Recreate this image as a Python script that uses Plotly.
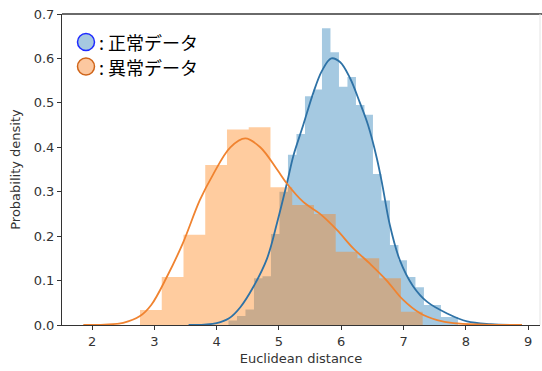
import numpy as np
import plotly.graph_objects as go

# Histogram of Euclidean distances for normal data (density per bin)
normal_bin_start = 4.19
normal_bin_width = 0.1364
normal_density = [0.010, 0.020, 0.035, 0.105, 0.110, 0.205, 0.300, 0.383, 0.430,
                  0.515, 0.530, 0.668, 0.614, 0.536, 0.558, 0.495, 0.473, 0.340,
                  0.280, 0.180, 0.146, 0.108, 0.085, 0.045, 0.045, 0.018, 0.018]

# Histogram of Euclidean distances for anomalous data (density per bin)
anomaly_bin_start = 2.77
anomaly_bin_width = 0.349
anomaly_density = [0.034, 0.108, 0.203, 0.360, 0.440, 0.445, 0.310, 0.270,
                   0.250, 0.165, 0.150, 0.105, 0.030]

# Kernel density estimates
normal_kde_x = [3.55, 3.80, 4.00, 4.20, 4.38, 4.59, 4.81, 4.97, 5.13, 5.23, 5.39,
                5.55, 5.69, 5.84, 5.98, 6.14, 6.30, 6.43, 6.57, 6.66, 6.78, 6.94,
                7.15, 7.38, 7.70, 8.02, 8.40, 8.90]
normal_kde_y = [0.000, 0.001, 0.004, 0.015, 0.040, 0.086, 0.150, 0.230, 0.320, 0.380,
                0.450, 0.522, 0.572, 0.600, 0.592, 0.556, 0.500, 0.450, 0.376, 0.315,
                0.225, 0.146, 0.088, 0.052, 0.026, 0.008, 0.002, 0.000]

anomaly_kde_x = [1.86, 2.20, 2.50, 2.77, 2.95, 3.20, 3.46, 3.73, 3.94, 4.22, 4.46,
                 4.70, 4.97, 5.13, 5.39, 5.66, 5.93, 6.19, 6.46, 6.73, 6.99, 7.26,
                 7.54, 7.80, 8.30, 8.90]
anomaly_kde_y = [0.000, 0.001, 0.005, 0.020, 0.045, 0.108, 0.185, 0.281, 0.338, 0.400,
                 0.420, 0.400, 0.350, 0.318, 0.277, 0.250, 0.214, 0.173, 0.138, 0.100,
                 0.057, 0.027, 0.011, 0.004, 0.001, 0.000]

x_ticks = [2, 3, 4, 5, 6, 7, 8, 9]
y_ticks = [0.0, 0.1, 0.2, 0.3, 0.4, 0.5, 0.6, 0.7]

BLUE_LINE = "#2e72a6"
ORANGE_LINE = "#f08330"


def step_outline(start, width, heights):
    """Return x/y points of a histogram outline for an 'hv' step line."""
    edges = start + width * np.arange(len(heights) + 1)
    xs = list(edges)
    ys = list(heights) + [heights[-1]]
    return xs, ys


fig = go.Figure()

# histogram fills first, density curves on top
nx, ny = step_outline(normal_bin_start, normal_bin_width, normal_density)
fig.add_trace(go.Scatter(x=nx, y=ny, mode="lines", line=dict(width=0, shape="hv"),
                         fill="tozeroy", fillcolor="rgba(31,119,180,0.4)",
                         hoverinfo="skip", showlegend=False))

ax, ay = step_outline(anomaly_bin_start, anomaly_bin_width, anomaly_density)
fig.add_trace(go.Scatter(x=ax, y=ay, mode="lines", line=dict(width=0, shape="hv"),
                         fill="tozeroy", fillcolor="rgba(255,127,14,0.4)",
                         hoverinfo="skip", showlegend=False))

fig.add_trace(go.Scatter(x=normal_kde_x, y=normal_kde_y, mode="lines",
                         line=dict(color=BLUE_LINE, width=1.8, shape="spline", smoothing=1.0),
                         showlegend=False))
fig.add_trace(go.Scatter(x=anomaly_kde_x, y=anomaly_kde_y, mode="lines",
                         line=dict(color=ORANGE_LINE, width=1.8, shape="spline", smoothing=1.0),
                         showlegend=False))

tick_font = dict(family="DejaVu Sans", size=13, color="#333333")

fig.update_layout(
    width=542, height=371,
    margin=dict(l=62, r=2, t=14, b=46),
    paper_bgcolor="white", plot_bgcolor="white",
    xaxis=dict(range=[1.518, 9.19], tickvals=x_ticks, ticks="outside", ticklen=4,
               tickcolor="#333333", showline=True, linecolor="#333333", linewidth=1,
               showgrid=False, zeroline=False, tickfont=tick_font,
               title=dict(text="Euclidean distance", font=tick_font, standoff=6)),
    yaxis=dict(range=[0, 0.7], tickvals=y_ticks, tickformat=".1f", ticks="outside",
               ticklen=4, tickcolor="#333333", showline=True, linecolor="#333333",
               linewidth=1, showgrid=False, zeroline=False, tickfont=tick_font,
               title=dict(text="Probability density", font=tick_font, standoff=10)),
    shapes=[
        dict(type="line", xref="paper", yref="paper", x0=0, x1=1.01, y0=1, y1=1,
             line=dict(color="#6a6a6a", width=2)),
        dict(type="line", xref="paper", yref="paper", x0=1, x1=1, y0=0, y1=1,
             line=dict(color="#e4e4e4", width=1)),
        dict(type="circle", xref="paper", yref="paper", xsizemode="pixel",
             ysizemode="pixel", xanchor=0.0502, yanchor=0.91,
             x0=-8.5, x1=8.5, y0=-8.5, y1=8.5,
             fillcolor="#a6c8e0", line=dict(color="#1f2bff", width=1.5)),
        dict(type="circle", xref="paper", yref="paper", xsizemode="pixel",
             ysizemode="pixel", xanchor=0.0502, yanchor=0.831,
             x0=-8.5, x1=8.5, y0=-8.5, y1=8.5,
             fillcolor="#fcc8a0", line=dict(color="#d0651a", width=1.5)),
    ],
    annotations=[
        dict(text=": 正常データ", xref="paper", yref="paper", x=0.0732, y=0.91,
             xanchor="left", yanchor="middle", showarrow=False,
             font=dict(family="Noto Sans CJK JP", size=18, color="black")),
        dict(text=": 異常データ", xref="paper", yref="paper", x=0.0732, y=0.831,
             xanchor="left", yanchor="middle", showarrow=False,
             font=dict(family="Noto Sans CJK JP", size=18, color="black")),
    ],
)

fig.write_html("out.html")
